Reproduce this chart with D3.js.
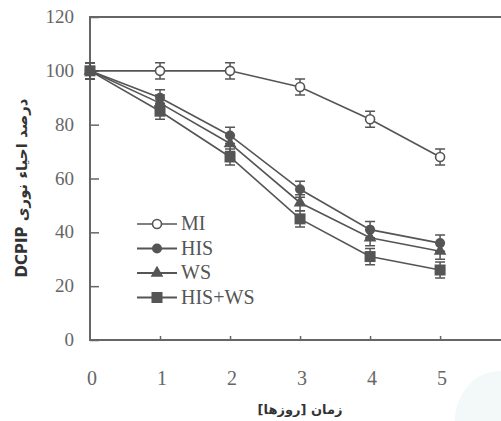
<!DOCTYPE html>
<html>
<head>
<meta charset="utf-8">
<script src="https://cdn.jsdelivr.net/npm/d3@7"></script>
<style>
body { margin: 0; background: #fff; }
svg { display: block; }
.serif { font-family: 'Liberation Serif', 'Times New Roman', Times, serif; }
</style>
</head>
<body>
<svg width="501" height="421"></svg>
<script>
const days = [0, 1, 2, 3, 4, 5];
const seriesNames = ['MI', 'HIS', 'WS', 'HIS+WS'];
const miValues = [100, 100, 100, 94, 82, 68];
const hisValues = [100, 90, 76, 56, 41, 36];
const wsValues = [100, 88, 73, 51, 38, 33];
const hisWsValues = [100, 85, 68, 45, 31, 26];
const errValues = [3, 3, 3, 3, 3, 3];
const yTicks = [0, 20, 40, 60, 80, 100, 120];
const xTicks = [0, 1, 2, 3, 4, 5];

const svg = d3.select('svg');
const ink = '#555';

const x = d3.scaleLinear().domain([0, 5.87]).range([90, 501]);
const y = d3.scaleLinear().domain([0, 120]).range([340, 17]);

// faint scan blob bottom right
svg.append('ellipse')
    .attr('cx', 500).attr('cy', 421).attr('rx', 45).attr('ry', 50)
    .attr('fill', '#f2f9f8');

// frame
svg.append('path')
    .attr('d', `M501,${y(120)}H${x(0)}V${y(0)}H501`)
    .attr('fill', 'none')
    .attr('stroke', '#666')
    .attr('stroke-width', 2);

// y axis ticks (inward)
const yAxis = svg.append('g')
    .attr('transform', `translate(${x(0)},0)`)
    .call(d3.axisRight(y).tickValues(yTicks).tickSize(9).tickFormat(''));
yAxis.select('.domain').remove();
yAxis.selectAll('line').attr('stroke', '#666').attr('stroke-width', 1.5);

svg.append('g').selectAll('text')
    .data(yTicks)
    .join('text')
    .attr('class', 'serif')
    .attr('x', 74)
    .attr('y', d => y(d) + 6)
    .attr('text-anchor', 'end')
    .attr('font-size', 19)
    .attr('fill', '#666')
    .text(d => d);

// x axis ticks (inward)
const xAxis = svg.append('g')
    .attr('transform', `translate(0,${y(0)})`)
    .call(d3.axisTop(x).tickValues(xTicks.slice(1)).tickSize(4).tickFormat(''));
xAxis.select('.domain').remove();
xAxis.selectAll('line').attr('stroke', '#666').attr('stroke-width', 1.5);

svg.append('g').selectAll('text')
    .data(xTicks)
    .join('text')
    .attr('class', 'serif')
    .attr('x', d => x(d) + 2)
    .attr('y', 385)
    .attr('text-anchor', 'middle')
    .attr('font-size', 20)
    .attr('fill', '#666')
    .text(d => d);

// axis titles
svg.append('text')
    .attr('x', 300)
    .attr('y', 414)
    .attr('text-anchor', 'middle')
    .attr('direction', 'rtl')
    .attr('font-family', '"DejaVu Sans", sans-serif')
    .attr('font-weight', 'bold')
    .attr('font-size', 13)
    .attr('fill', '#333')
    .text('زمان [روزها]');

svg.append('text')
    .attr('transform', 'translate(27,188) rotate(-90)')
    .attr('text-anchor', 'middle')
    .attr('direction', 'rtl')
    .attr('font-family', '"DejaVu Sans", sans-serif')
    .attr('font-weight', 'bold')
    .attr('font-size', 15)
    .attr('fill', '#333')
    .text('درصد احیاء نوری DCPIP');

const series = [
    { name: seriesNames[0], values: miValues, shape: 'openCircle' },
    { name: seriesNames[1], values: hisValues, shape: 'circle' },
    { name: seriesNames[2], values: wsValues, shape: 'triangle' },
    { name: seriesNames[3], values: hisWsValues, shape: 'square' },
];

function drawMarker(g, shape) {
    if (shape === 'openCircle') {
        g.append('circle').attr('r', 4.5).attr('fill', '#fff').attr('stroke', ink).attr('stroke-width', 1.6);
    } else if (shape === 'circle') {
        g.append('circle').attr('r', 5).attr('fill', ink);
    } else if (shape === 'triangle') {
        g.append('path').attr('d', d3.symbol(d3.symbolTriangle, 70)()).attr('fill', ink);
    } else {
        g.append('rect').attr('x', -5.5).attr('y', -5.5).attr('width', 11).attr('height', 11).attr('fill', ink);
    }
}

const line = d3.line()
    .x((d, i) => x(days[i]))
    .y(d => y(d));

series.forEach((s) => {
    svg.append('path')
        .datum(s.values)
        .attr('d', line)
        .attr('fill', 'none')
        .attr('stroke', ink)
        .attr('stroke-width', 1.6);
});

series.forEach((s) => {
    const pts = svg.append('g').selectAll('g')
        .data(s.values)
        .join('g')
        .attr('transform', (d, i) => `translate(${x(days[i])},${y(d)})`);
    pts.each(function (d, i) {
        const g = d3.select(this);
        const e = y(0) - y(errValues[i]);
        g.append('path')
            .attr('d', `M0,${-e}V${e}M-5,${-e}H5M-5,${e}H5`)
            .attr('stroke', ink)
            .attr('stroke-width', 1.5)
            .attr('fill', 'none');
        drawMarker(g, s.shape);
    });
});

// legend
const legend = svg.append('g');
series.forEach((s, i) => {
    const ly = 224 + i * 24.5;
    const g = legend.append('g').attr('transform', `translate(157,${ly})`);
    g.append('line').attr('x1', -20).attr('x2', 20)
        .attr('stroke', ink).attr('stroke-width', s.shape === 'openCircle' ? 1.4 : 2.2);
    drawMarker(g, s.shape);
    legend.append('text')
        .attr('class', 'serif')
        .attr('x', 181)
        .attr('y', ly + 6)
        .attr('font-size', 20)
        .attr('fill', '#555')
        .text(s.name);
});
</script>
</body>
</html>
